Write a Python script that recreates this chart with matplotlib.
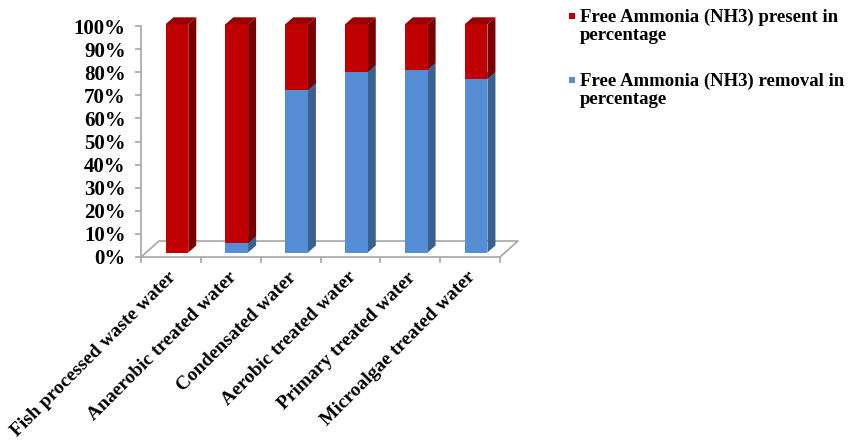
import matplotlib
matplotlib.use("Agg")
import matplotlib.pyplot as plt
from matplotlib.patches import Polygon, Rectangle

# Data (percent)
categories = ["Fish processed waste water", "Anaerobic treated water",
              "Condensated water", "Aerobic treated water",
              "Primary treated water", "Microalgae treated water"]
removal = [0, 4, 71, 79, 80, 76]
present = [100 - v for v in removal]
series_names = ["Free Ammonia (NH3) present in\npercentage",
                "Free Ammonia (NH3) removal in\npercentage"]
y_ticks = [0, 10, 20, 30, 40, 50, 60, 70, 80, 90, 100]

W, H = 848, 442
fig = plt.figure(figsize=(W / 100, H / 100), dpi=100)

def rect(left, top, right, bottom):
    return [left / W, (H - bottom) / H, (right - left) / W, (bottom - top) / H]

serif = "Liberation Serif"
AX_GREY = "#A6A6A6"

# Wall / floor axes carrying the visible value axis
ax = fig.add_axes(rect(141, 26, 500, 257))
ax.set_xlim(0, len(categories))
ax.set_ylim(0, 100)
for s in ("top", "right"):
    ax.spines[s].set_visible(False)
for s in ("left", "bottom"):
    ax.spines[s].set_color(AX_GREY)
    ax.spines[s].set_linewidth(1.2)
ax.set_yticks(y_ticks)
ax.set_yticklabels([f"{t}%" for t in y_ticks], fontfamily=serif,
                   fontweight="bold", fontsize=15)
ax.set_xticks(range(len(categories) + 1))
ax.set_xticklabels([])
ax.tick_params(axis="both", colors=AX_GREY, length=4, width=1.2)
ax.tick_params(axis="y", labelcolor="black", pad=7)
ax.patch.set_alpha(0)

# floor parallelogram edges
fdx = 18 / (359 / len(categories))
fdy = 16 / (231 / 100)
n = len(categories)
ax.plot([0, fdx, n + fdx, n], [0, fdy, fdy, 0], color=AX_GREY, lw=1.2,
        clip_on=False, zorder=1)

# category labels
for i, c in enumerate(categories):
    ax.text(i + 0.45, -5, c, rotation=45, ha="right", va="top",
            rotation_mode="anchor", fontfamily=serif, fontweight="bold",
            fontsize=14, clip_on=False)

# Bars axes (front plane of the 3-D columns)
bx = fig.add_axes(rect(141, 24.3, 500, 252.5))
bx.set_xlim(0, n)
bx.set_ylim(0, 100)
bx.axis("off")
bx.patch.set_alpha(0)

bar_w = 0.38
offs = 0.6
ddx = 8 / (359 / n)
ddy = 7 / (228.2 / 100)

colors = {
    "blue": ("#558ED5", "#38618F", "#4A7CBB"),
    "red": ("#C00000", "#780000", "#990000"),
}

def column(xc, y0, y1, cols):
    front, side, top = cols
    x0 = xc - bar_w / 2
    x1 = xc + bar_w / 2
    bx.add_patch(Polygon([(x1, y0), (x1 + ddx, y0 + ddy), (x1 + ddx, y1 + ddy), (x1, y1)],
                         closed=True, facecolor=side, edgecolor="none", clip_on=False))
    bx.add_patch(Polygon([(x0, y1), (x0 + ddx, y1 + ddy), (x1 + ddx, y1 + ddy), (x1, y1)],
                         closed=True, facecolor=top, edgecolor="none", clip_on=False))

xs = [i + offs for i in range(n)]
for i in range(n):
    if removal[i] > 0:
        column(xs[i], 0, removal[i], colors["blue"])
    column(xs[i], removal[i], 100, colors["red"])
bx.bar(xs, removal, width=bar_w, color=colors["blue"][0], clip_on=False)
bx.bar(xs, present, bottom=removal, width=bar_w, color=colors["red"][0], clip_on=False)

# Legend
for ytop, col, label in [(16, "#C00000", series_names[0]), (79.5, "#558ED5", series_names[1])]:
    fig.patches.append(Rectangle(((569) / W, (H - ytop - 3) / H), 6 / W, 6 / H,
                                 transform=fig.transFigure, facecolor=col,
                                 edgecolor="none"))
    fig.text(580 / W, (H - ytop + 7) / H, label, ha="left", va="top",
             fontfamily=serif, fontweight="bold", fontsize=13.5, linespacing=1.08)

fig.savefig("out.png", dpi=100)
